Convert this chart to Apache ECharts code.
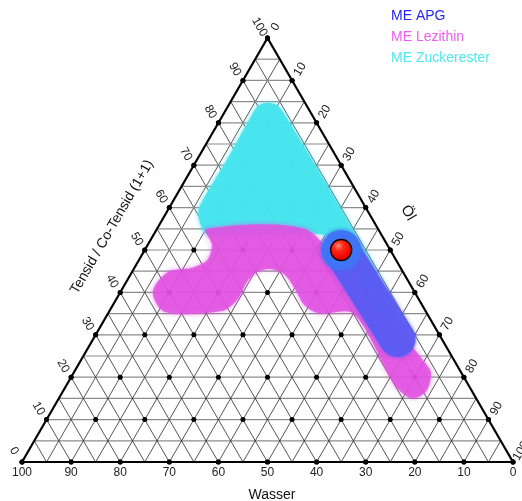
<!DOCTYPE html>
<html>
<head>
<meta charset="utf-8">
<script src="https://cdn.jsdelivr.net/npm/echarts@6/dist/echarts.min.js"></script>
<style>
  html, body { margin: 0; padding: 0; background: #fff; }
  #chart { width: 522px; height: 501px; }
</style>
</head>
<body>
<div id="chart"></div>
<script>
// Compositions are [Wasser, Tensid, Öl] in percent.
const tickValues = [0, 10, 20, 30, 40, 50, 60, 70, 80, 90, 100];
const gridStep = 5;
const dotStep = 10;

const axisTitles = { bottom: 'Wasser', left: 'Tensid / Co-Tensid (1+1)', right: 'Öl' };
const seriesNames = ['ME APG', 'ME Lezithin', 'ME Zuckerester'];

// ME Zuckerester: outline of the microemulsion region
const regionZuckerester = [
  [13, 81.1, 5.9], [9.9, 84, 6.1], [7.5, 84.7, 7.8], [5.9, 84, 10.1], [5.5, 81.4, 13.1],
  [5.2, 56.4, 38.4], [6, 36, 58], [8.5, 33, 58.5], [9, 40.6, 50.4], [9.6, 51.2, 39.2],
  [12.4, 53.8, 33.8], [35.4, 53.8, 10.8], [35.5, 56.6, 7.9], [34, 59.9, 6.1], [23.4, 70.5, 6.1]
];

// ME Lezithin: outline of the microemulsion region
const regionLezithin = [
  [35, 55, 10], [15, 55, 30], [12, 45, 43], [6, 22, 72], [9, 17, 74], [13, 15, 72],
  [15, 18, 67], [15, 35, 50], [22, 35, 43], [24, 37, 39], [24, 40.5, 35.5],
  [24.4, 44.1, 31.5], [26.7, 45.5, 27.8], [29.7, 44.8, 25.5], [32.9, 42.5, 24.6],
  [37.1, 38.2, 24.7], [41.5, 35.6, 22.9], [53.2, 35.4, 11.4], [53.3, 40.1, 6.6],
  [47.9, 44.8, 7.3], [42.5, 45.8, 11.7], [38.5, 47.6, 13.9], [35.7, 51.2, 13.1]
];

// ME APG: band along the Wasser ≈ 10 % line
const regionAPG = [[10, 50, 40], [9, 29, 62]];

// Selected formulation
const formulation = [10, 50, 40];

const SQ = Math.sqrt(3) / 2;
function toXY(p) {
  const s = p[0] + p[1] + p[2];
  const t = p[1] / s * 100, o = p[2] / s * 100;
  return [o + t / 2, t * SQ];
}

// Grid lines: constant Tensid (horizontal), constant Öl and constant Wasser
const gridLines = [];
for (let k = gridStep; k < 100; k += gridStep) {
  gridLines.push({ a: [100 - k, k, 0], b: [0, k, 100 - k], kind: 'h' });
  gridLines.push({ a: [100 - k, 0, k], b: [0, 100 - k, k], kind: 'd' });
  gridLines.push({ a: [k, 0, 100 - k], b: [k, 100 - k, 0], kind: 'd' });
}
const frameLines = [
  { a: [100, 0, 0], b: [0, 0, 100] },
  { a: [100, 0, 0], b: [0, 100, 0] },
  { a: [0, 0, 100], b: [0, 100, 0] }
];

// Lattice points every 10 %
const dots = [];
for (let t = 0; t <= 100; t += dotStep) {
  for (let o = 0; o <= 100 - t; o += dotStep) dots.push(toXY([100 - t - o, t, o]));
}

// Tick labels for the three edges
const tickLabels = [];
tickValues.forEach(v => {
  tickLabels.push({ pos: [v, 0, 100 - v], text: String(v), side: 'bottom' });
  tickLabels.push({ pos: [100 - v, v, 0], text: String(v), side: 'left' });
  tickLabels.push({ pos: [0, 100 - v, v], text: String(v), side: 'right' });
});
const labelPlacement = {
  bottom: { dx: 0, dy: 11, rot: 0 },
  left: { dx: -8, dy: -11, rot: -Math.PI / 3 },
  right: { dx: 8, dy: -11, rot: Math.PI / 3 }
};

const FONT = '"Liberation Sans", Arial, sans-serif';

function lineSeries(list, z, styleFor) {
  return {
    type: 'custom', coordinateSystem: 'cartesian2d', silent: true, z, clip: false,
    data: list.map(l => toXY(l.a).concat(toXY(l.b))),
    encode: { x: [0, 2], y: [1, 3] },
    renderItem: (params, api) => {
      const p1 = api.coord([api.value(0), api.value(1)]);
      const p2 = api.coord([api.value(2), api.value(3)]);
      return {
        type: 'line',
        shape: { x1: p1[0], y1: p1[1], x2: p2[0], y2: p2[1] },
        style: styleFor(list[params.dataIndex])
      };
    }
  };
}

function regionSeries(name, pts, fill, z) {
  return {
    name, type: 'custom', coordinateSystem: 'cartesian2d', silent: true, z, clip: false,
    data: pts.map(toXY),
    renderItem: (params, api) => {
      if (params.dataIndex !== 0) return null;
      const points = pts.map(p => api.coord(toXY(p)));
      return {
        type: 'polygon',
        shape: { points, smooth: 0.3 },
        style: { fill, shadowBlur: 5, shadowColor: fill }
      };
    }
  };
}

const chart = echarts.init(document.getElementById('chart'), null, { renderer: 'canvas' });
chart.setOption({
  animation: false,
  backgroundColor: '#fff',
  grid: { left: 22, top: 38, width: 491, height: 424 },
  xAxis: { type: 'value', min: 0, max: 100, show: false },
  yAxis: { type: 'value', min: 0, max: 100 * SQ, show: false },
  graphic: [
    { type: 'text', x: 391, y: 16, style: { text: seriesNames[0], fill: '#2626ee', font: '14px ' + FONT, verticalAlign: 'middle' } },
    { type: 'text', x: 391, y: 37, style: { text: seriesNames[1], fill: '#ef5cef', font: '14px ' + FONT, verticalAlign: 'middle' } },
    { type: 'text', x: 391, y: 58, style: { text: seriesNames[2], fill: '#4ce9ef', font: '14px ' + FONT, verticalAlign: 'middle' } },
    { type: 'text', x: 272, y: 495, style: { text: axisTitles.bottom, fill: '#111', font: '14px ' + FONT, align: 'center', verticalAlign: 'middle' } },
    { type: 'text', x: 112, y: 227, rotation: Math.PI / 3, style: { text: axisTitles.left, fill: '#111', font: '14px ' + FONT, align: 'center', verticalAlign: 'middle' } },
    { type: 'text', x: 408, y: 213, rotation: -Math.PI / 3, style: { text: axisTitles.right, fill: '#111', font: '15px ' + FONT, align: 'center', verticalAlign: 'middle' } }
  ],
  series: [
    lineSeries(gridLines, 1, l => l.kind === 'h'
      ? { stroke: '#8c8c8c', lineWidth: 1.2 }
      : { stroke: '#2a2a2a', lineWidth: 0.8 }),
    {
      type: 'scatter', data: dots, symbol: 'circle', symbolSize: 5, z: 2, silent: true,
      itemStyle: { color: '#000', opacity: 1 }
    },
    regionSeries(seriesNames[2], regionZuckerester, 'rgba(71,228,239,0.92)', 3),
    regionSeries(seriesNames[1], regionLezithin, 'rgba(225,79,225,0.82)', 4),
    {
      name: seriesNames[0], type: 'custom', coordinateSystem: 'cartesian2d', silent: true, z: 5, clip: false,
      data: regionAPG.map(toXY),
      renderItem: (params, api) => {
        if (params.dataIndex !== 0) return null;
        const pts = regionAPG.map(p => api.coord(toXY(p)));
        return {
          type: 'group',
          children: [
            {
              type: 'polyline', shape: { points: pts },
              style: { stroke: 'rgba(91,91,242,0.92)', lineWidth: 36, lineCap: 'round', lineJoin: 'round', fill: null, shadowBlur: 4, shadowColor: 'rgba(91,91,242,0.9)' }
            },
            {
              type: 'circle', shape: { cx: pts[0][0], cy: pts[0][1], r: 20 },
              style: { fill: 'rgba(63,116,246,0.9)', shadowBlur: 4, shadowColor: 'rgba(63,116,246,0.9)' }
            }
          ]
        };
      }
    },
    lineSeries(frameLines, 6, () => ({ stroke: '#000', lineWidth: 2.2 })),
    {
      type: 'scatter', data: tickValues.map(v => toXY([100 - v, v, 0]))
        .concat(tickValues.map(v => toXY([0, 100 - v, v])))
        .concat(tickValues.map(v => toXY([v, 0, 100 - v]))),
      symbol: 'circle', symbolSize: 5, z: 7, silent: true, itemStyle: { color: '#000', opacity: 1 }
    },
    {
      type: 'scatter', data: [toXY(formulation)], z: 8, silent: true,
      symbol: 'circle', symbolSize: 21,
      itemStyle: {
        opacity: 1,
        color: {
          type: 'radial', x: 0.38, y: 0.32, r: 0.75,
          colorStops: [
            { offset: 0, color: '#ff8c7c' },
            { offset: 0.3, color: '#ff2a14' },
            { offset: 0.75, color: '#f00000' },
            { offset: 1, color: '#a80000' }
          ]
        },
        borderColor: '#1a0000', borderWidth: 1.4
      }
    },
    {
      type: 'custom', coordinateSystem: 'cartesian2d', silent: true, z: 9, clip: false,
      data: tickLabels.map(l => toXY(l.pos)),
      renderItem: (params, api) => {
        const l = tickLabels[params.dataIndex];
        const c = api.coord([api.value(0), api.value(1)]);
        const pl = labelPlacement[l.side];
        return {
          type: 'text', x: c[0] + pl.dx, y: c[1] + pl.dy, rotation: pl.rot,
          style: { text: l.text, fill: '#222', font: '12px ' + FONT, align: 'center', verticalAlign: 'middle' }
        };
      }
    }
  ]
});
</script>
</body>
</html>
